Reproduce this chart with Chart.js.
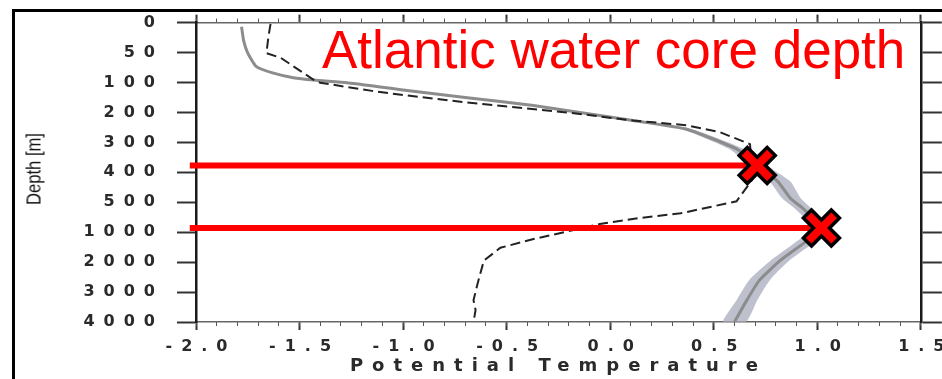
<!DOCTYPE html>
<html>
<head>
<meta charset="utf-8">
<script src="https://cdn.jsdelivr.net/npm/chart.js@4"></script>
<style>
    body { margin: 0; background: #fff; }
    #wrap { position: relative; width: 942px; height: 379px; overflow: hidden; }
    #frame { position: absolute; left: 12px; top: 9px; right: 0; bottom: 0; border-left: 3px solid #000; border-top: 3px solid #000; }
    #myChart { position: absolute; left: 0; top: 0; }
    #note { position: absolute; left: 322px; top: 23px; font: 53px/53px 'Liberation Sans', Arial, sans-serif; color: #ff0000; white-space: nowrap; }
    #ytitle { position: absolute; left: 34px; top: 169px; font: 20px 'Liberation Sans', Arial, sans-serif; color: #111; white-space: nowrap;
              transform: translate(-50%, -50%) rotate(-90deg) scaleX(0.83); }
</style>
</head>
<body>
<div id="wrap">
    <div id="frame"></div>
    <canvas id="myChart" width="942" height="379"></canvas>
    <div id="ytitle">Depth [m]</div>
    <div id="note">Atlantic water core depth</div>
</div>
<script>
// axis ticks
const depthTicks = [0, 50, 100, 200, 300, 400, 500, 1000, 2000, 3000, 4000];
const tempTickLabels = ['-2.0', '-1.5', '-1.0', '-0.5', '0.0', '0.5', '1.0', '1.5'];

// grey profile (mean)
const meanDepth = [7, 30, 51, 73, 84, 92, 96, 101, 115, 124, 151, 177, 227, 256, 322, 375, 431, 487, 600, 930, 1290, 1950, 2610, 3270, 4000];
const meanTemp = [-1.78, -1.77, -1.75, -1.71, -1.63, -1.53, -1.43, -1.27, -1.11, -1.01, -0.69, -0.37, 0.11, 0.37, 0.61, 0.71, 0.81, 0.87, 0.93, 1.02, 0.95, 0.82, 0.72, 0.66, 0.60];

// grey band edges
const bandDepth = [177, 227, 256, 322, 375, 431, 487, 600, 930, 1290, 1950, 2610, 3270, 4000];
const bandLeft = [-0.375, 0.09, 0.345, 0.575, 0.67, 0.77, 0.83, 0.89, 0.98, 0.905, 0.775, 0.67, 0.61, 0.545];
const bandRight = [-0.365, 0.13, 0.395, 0.645, 0.75, 0.87, 0.92, 0.97, 1.06, 0.995, 0.865, 0.77, 0.71, 0.655];

// dashed profile
const dashDepth = [2, 23, 51, 59, 96, 101, 128, 141, 167, 200, 227, 243, 266, 306, 421, 497, 685, 765, 865, 1230, 1520, 1950, 2710, 3270, 3600, 4000];
const dashTemp = [-1.64, -1.65, -1.66, -1.59, -1.43, -1.40, -1.15, -1.01, -0.69, -0.21, 0.11, 0.37, 0.53, 0.675, 0.69, 0.61, 0.34, 0.14, -0.05, -0.37, -0.53, -0.61, -0.64, -0.66, -0.65, -0.66];

// atlantic water cores
const coreDepth = [377, 930];
const coreTemp = [0.71, 1.02];
const guideStart = -2.03;

// depth axis is spaced by tick index, not by metres
function depthPos(d) {
    for (let i = 1; i < depthTicks.length; i++) {
        if (d <= depthTicks[i]) {
            return i - 1 + (d - depthTicks[i - 1]) / (depthTicks[i] - depthTicks[i - 1]);
        }
    }
    return depthTicks.length - 1;
}
function pts(temps, depths) {
    return temps.map((t, i) => ({ x: t, y: depthPos(depths[i]) }));
}

const bandShape = pts(bandLeft, bandDepth).concat(pts(bandRight, bandDepth).reverse());
const tickFont = { family: 'DejaVu Sans', size: 16, weight: 'bold' };

const spacedText = {
    id: 'spacedText',
    beforeDraw(chart) { chart.ctx.letterSpacing = '9px'; },
    afterDraw(chart) { chart.ctx.letterSpacing = '0px'; }
};

const datasets = [
    {
        data: pts(coreTemp, coreDepth), showLine: false, pointStyle: 'crossRot',
        pointRadius: 18, pointBorderWidth: 8, pointBorderColor: '#ff0000', pointBackgroundColor: '#ff0000', order: 0
    },
    {
        data: pts(coreTemp, coreDepth), showLine: false, pointStyle: 'crossRot',
        pointRadius: 21.5, pointBorderWidth: 15, pointBorderColor: '#000', pointBackgroundColor: '#000', order: 1
    }
];
coreDepth.forEach((d, i) => {
    datasets.push({
        data: [{ x: guideStart, y: depthPos(d) }, { x: coreTemp[i], y: depthPos(d) }],
        showLine: true, borderColor: '#ff0000', borderWidth: 6, pointRadius: 0, clip: false, order: 2
    });
});
datasets.push(
    {
        data: pts(dashTemp, dashDepth), showLine: true, borderColor: '#222', borderWidth: 2,
        borderDash: [10, 5], pointRadius: 0, order: 3
    },
    {
        data: pts(meanTemp, meanDepth), showLine: true, borderColor: '#8c8c8c', borderWidth: 3,
        tension: 0.15, pointRadius: 0, order: 4
    },
    {
        data: bandShape, showLine: true, fill: 'shape', backgroundColor: 'rgba(168,172,188,0.75)',
        borderWidth: 0, pointRadius: 0, tension: 0.2, order: 5
    }
);

const config = {
    type: 'scatter',
    data: { datasets: datasets },
    options: {
        responsive: false,
        animation: false,
        devicePixelRatio: 1,
        events: [],
        layout: { autoPadding: false, padding: 0 },
        plugins: { legend: { display: false }, tooltip: { enabled: false } },
        scales: {
            x: {
                type: 'linear', position: 'bottom', weight: 1, min: -2, max: 1.5,
                afterFit: s => { s.height = 57; },
                ticks: {
                    stepSize: 0.5, autoSkip: false, maxRotation: 0, padding: 7, labelOffset: 5,
                    color: '#2a2a2a', font: tickFont, callback: (v, i) => tempTickLabels[i]
                },
                grid: { drawOnChartArea: false, tickLength: 8, tickWidth: 2, tickColor: '#333' },
                border: { display: true, color: '#666', width: 1.5 },
                title: {
                    display: true, text: 'Potential Temperature', color: '#2a2a2a',
                    font: { family: 'DejaVu Sans', size: 18, weight: 'bold' }, padding: { top: 0, bottom: 2 }
                }
            },
            xMinor: {
                type: 'linear', axis: 'x', position: 'bottom', weight: 0, min: -2, max: 1.5,
                afterFit: s => { s.height = 0; },
                ticks: { display: false, stepSize: 0.1, maxTicksLimit: 100 },
                grid: { drawOnChartArea: false, tickLength: 4, tickWidth: 1, tickColor: '#555' },
                border: { display: false }
            },
            xTop: {
                type: 'linear', axis: 'x', position: 'top', weight: 1, min: -2, max: 1.5,
                afterFit: s => { s.height = 19; },
                ticks: { display: false, stepSize: 0.5 },
                grid: { drawOnChartArea: false, tickLength: 8, tickWidth: 2, tickColor: '#333' },
                border: { display: true, color: '#666', width: 1.5 }
            },
            xTopMinor: {
                type: 'linear', axis: 'x', position: 'top', weight: 0, min: -2, max: 1.5,
                afterFit: s => { s.height = 0; },
                ticks: { display: false, stepSize: 0.1, maxTicksLimit: 100 },
                grid: { drawOnChartArea: false, tickLength: 4, tickWidth: 1, tickColor: '#555' },
                border: { display: false }
            },
            y: {
                type: 'linear', position: 'left', min: 0, max: 10, reverse: true,
                afterFit: s => { s.width = 196; },
                ticks: {
                    stepSize: 1, autoSkip: false, padding: 13, color: '#2a2a2a', font: tickFont,
                    callback: v => depthTicks[Math.round(v)]
                },
                grid: { drawOnChartArea: false, tickLength: 19, tickWidth: 2, tickColor: '#333' },
                border: { display: true, color: '#1a1a1a', width: 2.5 }
            },
            y2: {
                type: 'linear', axis: 'y', position: 'right', min: 0, max: 10, reverse: true,
                afterFit: s => { s.width = 21; },
                ticks: { display: false, stepSize: 1 },
                grid: { drawOnChartArea: false, tickLength: 21, tickWidth: 2, tickColor: '#333' },
                border: { display: true, color: '#1a1a1a', width: 2.5 }
            }
        }
    },
    plugins: [spacedText]
};

const myChart = new Chart(document.getElementById('myChart'), config);
</script>
</body>
</html>
